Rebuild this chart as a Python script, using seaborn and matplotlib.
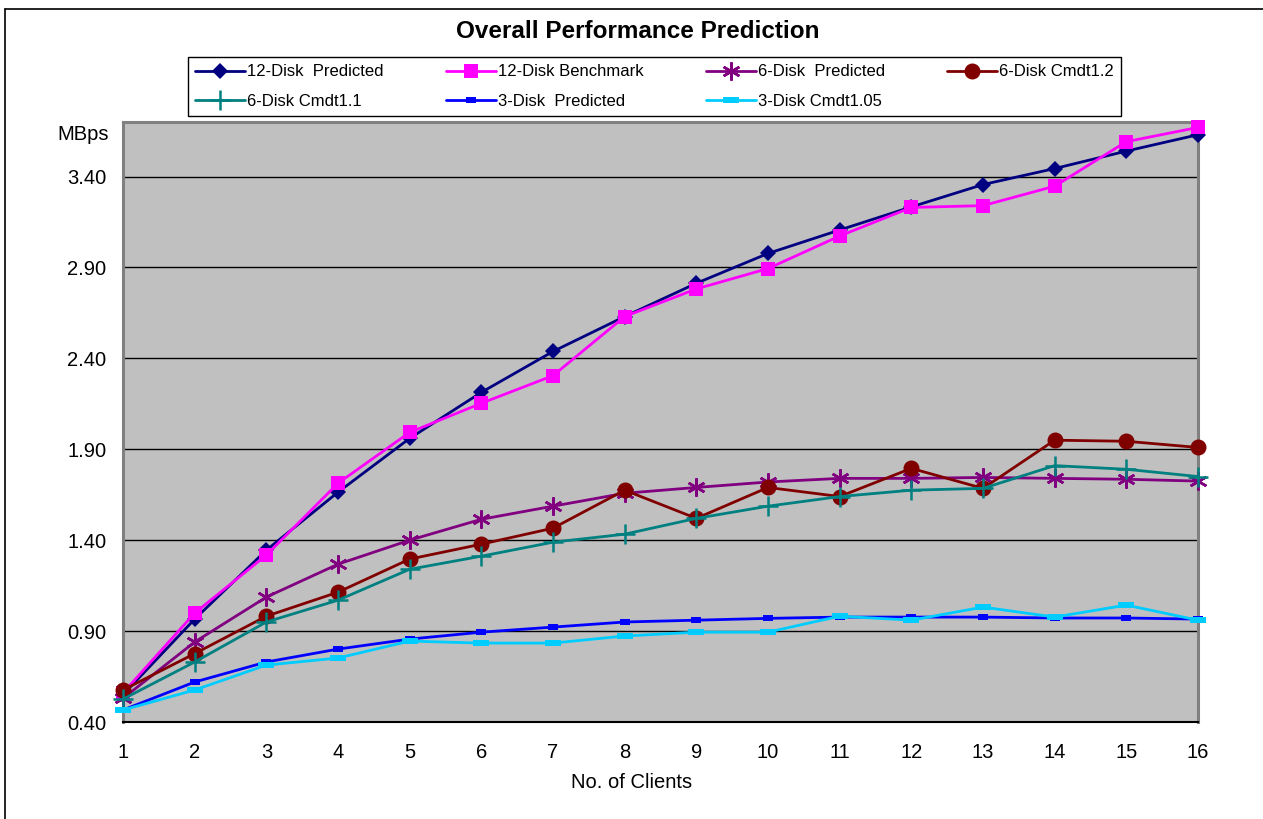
import numpy as np
import pandas as pd
import matplotlib
matplotlib.use("Agg")
import matplotlib.pyplot as plt
from matplotlib.lines import Line2D
from matplotlib.path import Path
import seaborn as sns

# ---- data -------------------------------------------------------------
clients = list(range(1, 17))

pred_12disk = [0.55, 0.966, 1.345, 1.664, 1.96, 2.213, 2.438, 2.63,
               2.813, 2.977, 3.106, 3.233, 3.356, 3.444, 3.54, 3.63]
bench_12disk = [0.56, 0.999, 1.318, 1.713, 1.993, 2.153, 2.305, 2.63,
                2.782, 2.894, 3.073, 3.23, 3.24, 3.347, 3.592, 3.67]
pred_6disk = [0.53, 0.84, 1.087, 1.268, 1.40, 1.515, 1.587, 1.658,
              1.69, 1.72, 1.74, 1.74, 1.745, 1.74, 1.735, 1.725]
cmdt12_6disk = [0.576, 0.776, 0.982, 1.114, 1.296, 1.378, 1.466, 1.675,
                1.52, 1.69, 1.64, 1.795, 1.685, 1.95, 1.944, 1.91]
cmdt11_6disk = [0.526, 0.73, 0.95, 1.07, 1.24, 1.312, 1.389, 1.433,
                1.52, 1.587, 1.64, 1.675, 1.685, 1.81, 1.79, 1.75]
pred_3disk = [0.466, 0.62, 0.73, 0.801, 0.856, 0.894, 0.922, 0.95,
              0.96, 0.97, 0.977, 0.977, 0.977, 0.972, 0.972, 0.966]
cmdt105_3disk = [0.466, 0.576, 0.713, 0.752, 0.845, 0.834, 0.834, 0.873,
                 0.894, 0.894, 0.982, 0.96, 1.032, 0.977, 1.043, 0.96]

series_names = ["12-Disk  Predicted", "12-Disk Benchmark", "6-Disk  Predicted",
                "6-Disk Cmdt1.2", "6-Disk Cmdt1.1", "3-Disk  Predicted",
                "3-Disk Cmdt1.05"]
series_values = [pred_12disk, bench_12disk, pred_6disk, cmdt12_6disk,
                 cmdt11_6disk, pred_3disk, cmdt105_3disk]
y_ticks = [0.40, 0.90, 1.40, 1.90, 2.40, 2.90, 3.40]

# ---- styling ----------------------------------------------------------
sns.set_style("white")
plt.rcParams["font.family"] = ["Liberation Sans", "DejaVu Sans"]
for key in ("text.color", "axes.labelcolor", "xtick.color", "ytick.color"):
    plt.rcParams[key] = "black"


def bar_marker(w, h):
    verts = [(-w, -h), (w, -h), (w, h), (-w, h), (-w, -h)]
    codes = [Path.MOVETO, Path.LINETO, Path.LINETO, Path.LINETO, Path.CLOSEPOLY]
    return Path(verts, codes)


styles = {
    "12-Disk  Predicted": dict(color="#000080", marker="D", ms=8.5, mew=0),
    "12-Disk Benchmark": dict(color="#FF00FF", marker="s", ms=10.5, mew=0),
    "6-Disk  Predicted": dict(color="#800080", marker=(6, 2, 0), ms=13, mew=1.8),
    "6-Disk Cmdt1.2": dict(color="#800000", marker="o", ms=11.5, mew=0),
    "6-Disk Cmdt1.1": dict(color="#008080", marker="+", ms=15, mew=1.8),
    "3-Disk  Predicted": dict(color="#0000FF", marker=bar_marker(1.0, 0.55), ms=7.5, mew=0),
    "3-Disk Cmdt1.05": dict(color="#00CCFF", marker=bar_marker(1.0, 0.45), ms=11, mew=0),
}

W, H = 1263, 819
fig = plt.figure(figsize=(W / 100, H / 100), dpi=100)
ax = fig.add_axes([123 / W, 1 - 722 / H, (1198 - 123) / W, (722 - 122) / H])
ax.set_facecolor("#C0C0C0")

df = pd.DataFrame({"clients": clients})
for name, vals in zip(series_names, series_values):
    df[name] = vals
long_df = df.melt(id_vars="clients", var_name="series", value_name="MBps")

for name in series_names:
    st = styles[name]
    sub = long_df[long_df["series"] == name]
    sns.lineplot(data=sub, x="clients", y="MBps", ax=ax, color=st["color"],
                 linewidth=2.0, marker=st["marker"], markersize=st["ms"],
                 markeredgewidth=st["mew"], markeredgecolor=st["color"],
                 markerfacecolor=st["color"], label=name, clip_on=False,
                 zorder=3)

ax.set_xlim(1, 16)
ax.set_ylim(0.40, 3.70)
ax.set_xticks(clients)
ax.set_xticklabels([str(c) for c in clients], fontsize=14.5)
ax.set_yticks(y_ticks)
ax.set_yticklabels([f"{v:.2f}" for v in y_ticks], fontsize=14.5)
ax.tick_params(axis="both", direction="out", length=6, width=1.2,
               color="black", labelcolor="black")
ax.tick_params(axis="y", pad=6)
ax.tick_params(axis="x", pad=9)
ax.set_xlabel("")
ax.set_ylabel("")

for v in y_ticks[1:]:
    ax.axhline(v, color="black", linewidth=1.0, zorder=1)

for side in ("left", "top", "right"):
    ax.spines[side].set_color("#808080")
    ax.spines[side].set_linewidth(2.2)
ax.spines["bottom"].set_color("black")
ax.spines["bottom"].set_linewidth(1.5)

# titles and axis captions
fig.text(638 / W, 1 - 31 / H, "Overall Performance Prediction",
         ha="center", va="center", fontsize=17.5, fontweight="bold",
         color="black")
fig.text(83 / W, 1 - 134 / H, "MBps", ha="center", va="center", fontsize=14.5,
         color="black")
fig.text(632 / W, 1 - 783 / H, "No. of Clients", ha="center", va="center",
         fontsize=14.5, color="black")

# legend box, filled row by row
ax.get_legend().remove()
handles, labels = ax.get_legend_handles_labels()
order = [0, 4, 1, 5, 2, 6, 3]
leg = fig.legend([handles[i] for i in order], [labels[i] for i in order],
                 ncol=4, loc="lower left", mode="expand",
                 bbox_to_anchor=(188 / W, 1 - 116 / H, (1121 - 188) / W, 59 / H),
                 frameon=True, fancybox=False, framealpha=1, edgecolor="black",
                 fontsize=12, handlelength=3.0, handletextpad=0.1,
                 borderaxespad=0, borderpad=0.45, labelspacing=0.85,
                 columnspacing=1.0, labelcolor="black")
leg.get_frame().set_linewidth(1.0)

# outer chart frame (top and left edges)
fig.add_artist(Line2D([5 / W, 1], [1 - 9 / H, 1 - 9 / H], color="black",
                      linewidth=1.2, transform=fig.transFigure))
fig.add_artist(Line2D([5 / W, 5 / W], [0, 1 - 9 / H], color="black",
                      linewidth=1.2, transform=fig.transFigure))

fig.savefig("out.png", dpi=100)
